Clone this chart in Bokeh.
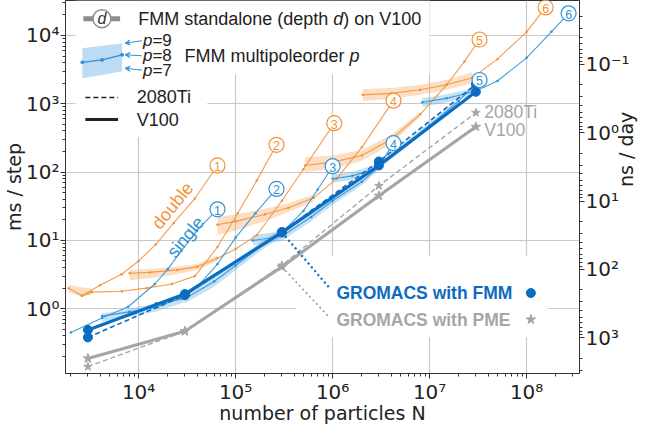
import numpy as np
from bokeh.plotting import figure
from bokeh.models import (Range1d, LogScale, LogAxis, FixedTicker, CustomJSTickFormatter,
                          BoxAnnotation, Label, Arrow, VeeHead)
from bokeh.core.properties import value
from bokeh.embed import file_html
from bokeh.resources import INLINE

# ---------------- data ----------------
# GROMACS runs
gmx_N = [3e3, 3e4, 3e5, 3e6, 3e7]
fmm_v100_ms = [0.49, 1.64, 13.1, 125, 1497]
fmm_2080_ms = [0.38, 1.58, 13.3, 143, 1930]
pme_v100_ms = [0.187, 0.468, 4.1, 45, 460]
pme_2080_ms = [0.142, 0.468, 4.3, 63, 740]

# FMM standalone, double precision, depth 1..6 (p=8 line)
dbl1_N = [1.9e3, 2.6e3, 4.0e3, 6.7e3, 1.0e4, 1.5e4, 2.3e4, 3.8e4, 6.5e4]
dbl1_ms = [2.0, 1.55, 2.2, 3.2, 5.0, 8.7, 18, 41, 125]
dbl2_N = [2.6e3, 3.3e3, 6.7e3, 1.2e4, 2.2e4, 3.8e4, 6.5e4, 1.05e5, 1.65e5, 2.64e5]
dbl2_ms = [1.55, 1.75, 1.8, 2.0, 2.3, 3.0, 8, 25, 75, 251]
dbl3_N = [8.1e3, 1.3e4, 2.5e4, 4e4, 6.5e4, 1.0e5, 1.66e5, 3e5, 5e5, 1.04e6]
dbl3_ms = [3.3, 3.4, 3.7, 4.1, 5.5, 7.5, 12, 38, 110, 520]
dbl4_N = [6.5e4, 1e5, 2e5, 3.5e5, 6.4e5, 1.1e6, 2e6, 4.24e6]
dbl4_ms = [17, 19, 24, 30, 42, 80, 230, 1110]
dbl5_N = [5.2e5, 1e6, 2e6, 4e6, 8e6, 1.5e7, 2.3e7, 3.27e7]
dbl5_ms = [125, 140, 175, 300, 700, 1900, 4200, 8720]
dbl6_N = [2.05e6, 4e6, 8e6, 1.5e7, 2.75e7, 5e7, 1e8, 1.57e8]
dbl6_ms = [1350, 1420, 1600, 1900, 2400, 4500, 11300, 25700]

# double precision bands (p=7 .. p=9)
dblb1_N = [1.9e3, 2.6e3, 3.3e3]
dblb1_lo = [1.75, 1.5, 1.6]
dblb1_hi = [2.25, 2.05, 2.0]
dblb3_N = [8.1e3, 1.3e4, 2.5e4, 4e4, 6.5e4]
dblb3_lo = [2.6, 2.8, 3.2, 3.7, 5.0]
dblb3_hi = [3.7, 3.8, 4.1, 4.5, 6.0]
dblb4_N = [6.5e4, 1e5, 2e5, 3.5e5, 6.4e5]
dblb4_lo = [12, 14, 19, 26, 37]
dblb4_hi = [22, 24, 29, 35, 47]
dblb5_N = [5.2e5, 1e6, 2e6, 4e6, 8e6]
dblb5_lo = [100, 112, 145, 255, 640]
dblb5_hi = [165, 175, 210, 350, 760]
dblb6_N = [2.05e6, 4e6, 8e6, 1.5e7, 2.75e7]
dblb6_lo = [1100, 1180, 1350, 1600, 2000]
dblb6_hi = [1650, 1700, 1900, 2250, 2900]

# FMM standalone, single precision, depth 1..6
sgl1_N = [2.0e3, 4.2e3, 7.8e3, 1.47e4, 2.0e4, 2.75e4, 4.0e4, 6.5e4]
sgl1_ms = [0.45, 0.73, 1.07, 2.3, 3.8, 7, 14, 28.5]
sgl2_N = [4.2e3, 8e3, 1.5e4, 3e4, 4e4, 6.5e4, 1e5, 1.6e5, 2.64e5]
sgl2_ms = [0.78, 0.9, 1.05, 1.5, 2.07, 4.5, 11, 25, 56.6]
sgl3_N = [1.5e4, 3e4, 6e4, 1e5, 2e5, 3.1e5, 5e5, 7e5, 1e6]
sgl3_ms = [1.2, 1.4, 2.5, 4.3, 9, 13.6, 27, 55, 122]
sgl4_N = [1.5e5, 3e5, 6e5, 1e6, 2e6, 3e6, 4.24e6]
sgl4_ms = [10, 11.5, 22, 38, 72, 120, 265]
sgl5_N = [1e6, 1.6e6, 2.6e6, 5e6, 1e7, 2e7, 3.27e7]
sgl5_ms = [80, 88, 110, 220, 480, 1100, 2228]
sgl6_N = [8.4e6, 1.5e7, 3e7, 5e7, 1e8, 1.8e8, 2.71e8]
sgl6_ms = [1050, 1200, 1540, 2150, 4700, 11300, 21100]

# single precision bands
sglb2_N = [4.2e3, 8e3, 1.5e4, 3e4]
sglb2_lo = [0.65, 0.76, 0.9, 1.25]
sglb2_hi = [0.85, 1.0, 1.2, 1.75]
sglb3_N = [3e4, 6e4, 1e5, 2e5, 3.1e5]
sglb3_lo = [1.2, 2.1, 3.7, 7.8, 11.5]
sglb3_hi = [1.65, 2.9, 5.0, 10.5, 15.5]
sglb4_N = [1.5e5, 3e5, 6e5, 1e6, 2e6, 3e6]
sglb4_lo = [8.5, 9.8, 19, 33, 64, 108]
sglb4_hi = [12, 13.5, 25.5, 44, 82, 133]
sglb5_N = [1e6, 1.6e6, 2.6e6, 5e6, 1e7, 2e7]
sglb5_lo = [70, 77, 96, 195, 435, 1020]
sglb5_hi = [92, 100, 125, 250, 530, 1190]
sglb6_N = [8.4e6, 1.5e7, 3e7]
sglb6_lo = [900, 1040, 1380]
sglb6_hi = [1200, 1380, 1720]

depth_labels = ["1", "2", "3", "4", "5", "6"]
x_major = [1e4, 1e5, 1e6, 1e7, 1e8]
y_major = [1, 10, 100, 1000, 10000]
nsday_major = [0.1, 1, 10, 100, 1000]
NSDAY_K = 377.0   # ns/day = K / (ms/step)

# ---------------- layout helpers (reference pixel -> data) ----------------
def X(px):
    return 10 ** (4 + (px - 143.7) / 97.75)

def Y(py):
    return 10 ** ((322 - py) / 69.6)

x_start, x_end = X(70), X(588)
y_start, y_end = Y(388), Y(8)

ORANGE = "#f39237"
ORANGE_BAND = "#f6a764"
BLUE = "#2d93d6"
BLUE_BAND = "#5aa8e4"
DBLUE = "#0b6cc0"
GRAY = "#a6a6a6"
SANS = "Liberation Sans"
DJ = "DejaVu Sans"

p = figure(width=650, height=426, x_axis_type="log", y_axis_type="log",
           x_range=Range1d(x_start, x_end), y_range=Range1d(y_start, y_end),
           output_backend="svg", toolbar_location=None,
           min_border_left=62, min_border_right=70, min_border_top=0, min_border_bottom=46)
p.outline_line_color = "#333333"
p.background_fill_color = "white"

fmt = CustomJSTickFormatter(code="""
const s = {'-':'\u207b','0':'\u2070','1':'\u00b9','2':'\u00b2','3':'\u00b3','4':'\u2074',
           '5':'\u2075','6':'\u2076','7':'\u2077','8':'\u2078','9':'\u2079'};
const e = Math.round(Math.log10(tick));
return '10' + String(e).split('').map(c => s[c]).join('');
""")

def minors(lo, hi):
    out = []
    for e in range(-3, 10):
        for m in range(2, 10):
            v = m * 10.0 ** e
            if lo <= v <= hi:
                out.append(v)
    return out

def style_axis(ax, label_standoff):
    ax.formatter = fmt
    ax.major_label_text_font = DJ
    ax.major_label_text_font_size = "20px"
    ax.major_label_text_color = "#222222"
    ax.axis_label_text_font = DJ
    ax.axis_label_text_font_size = "19px"
    ax.axis_label_text_font_style = "normal"
    ax.axis_label_text_color = "#222222"
    ax.axis_line_color = "#333333"
    ax.major_tick_line_color = "#333333"
    ax.minor_tick_line_color = "#333333"
    ax.major_tick_in = 0
    ax.major_tick_out = 5
    ax.minor_tick_in = 0
    ax.minor_tick_out = 3
    ax.major_label_standoff = 1
    ax.axis_label_standoff = label_standoff

p.xaxis.ticker = FixedTicker(ticks=x_major, minor_ticks=minors(x_start, x_end))
p.yaxis.ticker = FixedTicker(ticks=y_major, minor_ticks=minors(y_start, y_end))
style_axis(p.xaxis[0], -5)
style_axis(p.yaxis[0], -2)
p.xaxis.axis_label = "number of particles N"
p.yaxis.axis_label = "ms / step"

p.extra_y_ranges = {"ns": Range1d(NSDAY_K / y_start, NSDAY_K / y_end)}
p.extra_y_scales = {"ns": LogScale()}
rax = LogAxis(y_range_name="ns", axis_label="ns / day",
              ticker=FixedTicker(ticks=nsday_major,
                                 minor_ticks=minors(NSDAY_K / y_end, NSDAY_K / y_start)))
style_axis(rax, -7)
try:
    rax.axis_label_orientation = np.pi / 2
except Exception:
    pass
p.add_layout(rax, "right")

p.xgrid.ticker = FixedTicker(ticks=x_major)
p.ygrid.ticker = FixedTicker(ticks=y_major)
p.grid.grid_line_color = "#c9c9c9"
p.grid.grid_line_width = 1.2
p.xgrid.minor_grid_line_color = None
p.ygrid.minor_grid_line_color = None

# white legend backgrounds (hide grid lines)
for l, r, t, b in [(X(80), X(437), y_end, Y(83)),
                   (X(80), X(213), Y(83), Y(147)),
                   (X(302), X(556), Y(268), Y(351))]:
    p.add_layout(BoxAnnotation(left=l, right=r, top=t, bottom=b, fill_color="white",
                               fill_alpha=1.0, line_alpha=0, level="underlay"))

# ---------------- bands ----------------
for N, lo, hi in [(dblb1_N, dblb1_lo, dblb1_hi), (dblb3_N, dblb3_lo, dblb3_hi),
                  (dblb4_N, dblb4_lo, dblb4_hi), (dblb5_N, dblb5_lo, dblb5_hi),
                  (dblb6_N, dblb6_lo, dblb6_hi)]:
    p.varea(x=N, y1=lo, y2=hi, fill_color=ORANGE_BAND, fill_alpha=0.38)
for N, lo, hi in [(sglb2_N, sglb2_lo, sglb2_hi), (sglb3_N, sglb3_lo, sglb3_hi),
                  (sglb4_N, sglb4_lo, sglb4_hi), (sglb5_N, sglb5_lo, sglb5_hi),
                  (sglb6_N, sglb6_lo, sglb6_hi)]:
    p.varea(x=N, y1=lo, y2=hi, fill_color=BLUE_BAND, fill_alpha=0.35)

# ---------------- thin standalone curves ----------------
dbl_curves = [(dbl1_N, dbl1_ms), (dbl2_N, dbl2_ms), (dbl3_N, dbl3_ms),
              (dbl4_N, dbl4_ms), (dbl5_N, dbl5_ms), (dbl6_N, dbl6_ms)]
sgl_curves = [(sgl1_N, sgl1_ms), (sgl2_N, sgl2_ms), (sgl3_N, sgl3_ms),
              (sgl4_N, sgl4_ms), (sgl5_N, sgl5_ms), (sgl6_N, sgl6_ms)]
for N, ms in dbl_curves:
    p.line(N, ms, line_color=ORANGE, line_width=1.1, line_alpha=0.9)
    p.scatter(N, ms, size=2.5, color=ORANGE, line_alpha=0)
for N, ms in sgl_curves:
    p.line(N, ms, line_color=BLUE, line_width=1.1, line_alpha=0.9)
    p.scatter(N, ms, size=2.5, color=BLUE, line_alpha=0)

# ---------------- GROMACS ----------------
p.line(gmx_N, pme_2080_ms, line_color=GRAY, line_width=1.4, line_dash="5 3")
p.line(gmx_N, pme_v100_ms, line_color=GRAY, line_width=3.2)
p.scatter(gmx_N, pme_2080_ms, marker="star", size=9, color=GRAY)
p.scatter(gmx_N, pme_v100_ms, marker="star", size=10, color=GRAY)

p.line(gmx_N, fmm_2080_ms, line_color=DBLUE, line_width=1.6, line_dash="5 3")
p.line(gmx_N, fmm_v100_ms, line_color=DBLUE, line_width=3.2)
p.scatter(gmx_N, fmm_2080_ms, marker="circle", size=9, color=DBLUE)
p.scatter(gmx_N, fmm_v100_ms, marker="circle", size=9, color=DBLUE)

# connectors to the GROMACS legend
p.line([gmx_N[2], X(337)], [fmm_v100_ms[2], Y(302)], line_color=DBLUE, line_width=2.2, line_dash="2 3")
p.line([gmx_N[2], X(336)], [pme_v100_ms[2], Y(331)], line_color="#999999", line_width=1.6, line_dash="2 3")

# ---------------- circled depth numbers ----------------
for curves, col in [(dbl_curves, ORANGE), (sgl_curves, BLUE)]:
    ex = [c[0][-1] for c in curves]
    ey = [c[1][-1] for c in curves]
    p.scatter(ex, ey, marker="circle", size=15, fill_color="white", line_color=col, line_width=1.2)
    p.text(ex, ey, text=depth_labels, text_align="center", text_baseline="middle",
           text_font=value(SANS), text_font_size="12.5px", text_color=col, y_offset=1)

# ---------------- in-plot texts ----------------
def lab(px, py, text, color="#222222", size="18px", style="normal", align="left", angle=0.0,
        font=SANS, dx=0):
    p.add_layout(Label(x=X(px), y=Y(py), text=text, text_color=color, text_font_size=size,
                       text_font=font, text_font_style=style, text_align=align,
                       text_baseline="middle", angle=angle, x_offset=dx))

lab(178, 217, "double", color=ORANGE, size="18px", align="center", angle=0.89)
lab(191, 249, "single", color=BLUE, size="18px", align="center", angle=0.88)
lab(492, 122, "2080Ti", color=GRAY, size="17.5px")
lab(492, 139.5, "V100", color=GRAY, size="17.5px")

lab(343, 306, "GROMACS with FMM", color=DBLUE, size="17.5px", style="bold")
lab(343, 333, "GROMACS with PME", color=GRAY, size="17.5px", style="bold")
p.scatter([X(539)], [Y(306)], marker="circle", size=9, color=DBLUE)
p.scatter([X(539)], [Y(333)], marker="star", size=10, color=GRAY)

# ---------------- legend (top left) ----------------
p.line([X(88), X(125)], [Y(26.7), Y(26.7)], line_color="#8c8c8c", line_width=5)
p.scatter([X(106.7)], [Y(26.5)], marker="circle", size=18, fill_color="white",
          line_color="#8c8c8c", line_width=1.5)
lab(106.7, 26.5, "d", color="#333333", size="16px", style="italic", align="center")
lab(143.3, 26.7, "FMM standalone (depth ")
lab(143.3, 26.7, "d", style="italic", dx=195)
lab(143.3, 26.7, ") on V100", dx=205)

p.varea(x=[X(87), X(107), X(127)], y1=[Y(87.3), Y(84), Y(80)], y2=[Y(56.7), Y(54), Y(51.7)],
        fill_color=BLUE_BAND, fill_alpha=0.4)
p.line([X(87), X(107), X(127)], [Y(71), Y(68.5), Y(63.3)], line_color=BLUE, line_width=1.3)
p.scatter([X(87), X(107), X(127)], [Y(71), Y(68.5), Y(63.3)], size=3, color=BLUE)
for ty, hy in [(49, 51.5), (64.3, 63.3), (79, 77)]:
    p.add_layout(Arrow(end=VeeHead(size=5, line_color=BLUE, fill_color=BLUE, line_width=1),
                       x_start=X(147), y_start=Y(ty), x_end=X(130), y_end=Y(hy),
                       line_color=BLUE, line_width=1))
for ty, t in [(49, "=9"), (64.3, "=8"), (79, "=7")]:
    lab(148, ty, "p", size="17px", style="italic")
    lab(148, ty, t, size="17px", dx=9.5)
lab(190, 64.3, "FMM multipoleorder ")
lab(190, 64.3, "p", style="italic", dx=165)

p.line([X(90), X(123)], [Y(106.7), Y(106.7)], line_color="#222222", line_width=1.5, line_dash="5 3")
lab(141.7, 106.7, "2080Ti")
p.line([X(90), X(123)], [Y(129.3), Y(129.3)], line_color="#222222", line_width=3)
lab(141.7, 130, "V100")

open("out.html", "w").write(file_html(p, INLINE))
